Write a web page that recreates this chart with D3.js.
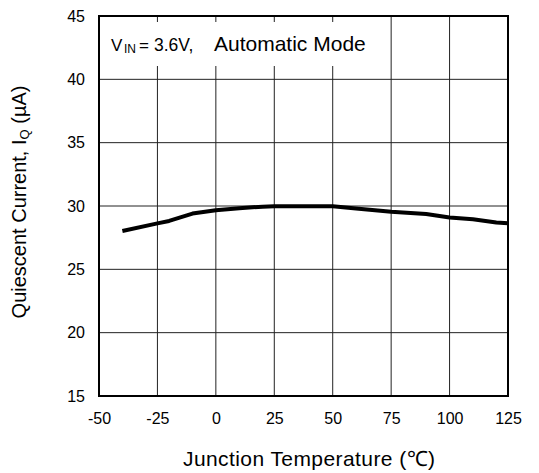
<!DOCTYPE html>
<html><head><meta charset="utf-8">
<script src="https://cdn.jsdelivr.net/npm/d3@7"></script>
<style>body{margin:0;background:#fff}svg{display:block;font-family:Arial,"Liberation Sans",sans-serif}</style>
</head><body><svg id="c" width="539" height="473"></svg>
<script>
const temps = [-40, -25, -20, -10, 0, 10, 20, 25, 37.5, 50, 60, 75, 90, 100, 110, 120, 125];
const iq    = [28.03, 28.63, 28.82, 29.4, 29.66, 29.82, 29.95, 29.98, 29.98, 29.98, 29.8, 29.55, 29.37, 29.1, 28.95, 28.7, 28.63];
const xTicks = [-50, -25, 0, 25, 50, 75, 100, 125];
const yTicks = [15, 20, 25, 30, 35, 40, 45];

const svg = d3.select("#c");
const L = 99, R = 508, T = 16, B = 396;
const x = d3.scaleLinear().domain([-50, 125]).range([L, R]);
const y = d3.scaleLinear().domain([15, 45]).range([B, T]);

// grid
svg.append("g").selectAll("line").data(xTicks).join("line")
  .attr("x1", d => x(d)).attr("x2", d => x(d)).attr("y1", T).attr("y2", B)
  .attr("stroke", "#222").attr("stroke-width", 1);
svg.append("g").selectAll("line").data(yTicks).join("line")
  .attr("x1", L).attr("x2", R).attr("y1", d => y(d)).attr("y2", d => y(d))
  .attr("stroke", "#222").attr("stroke-width", 1);

// annotation box
svg.append("rect").attr("x", L + 1).attr("y", 22).attr("width", 276).attr("height", 44).attr("fill", "#fff");
svg.append("text").attr("x", 111).attr("y", 51).attr("font-size", 17).attr("fill", "#000").text("V");
svg.append("text").attr("x", 124).attr("y", 53).attr("font-size", 12).attr("fill", "#000").text("IN");
svg.append("text").attr("x", 139).attr("y", 51).attr("font-size", 17).attr("fill", "#000").text("=");
svg.append("text").attr("x", 154).attr("y", 51).attr("font-size", 17.5).attr("fill", "#000").text("3.6V,");
svg.append("text").attr("x", 214).attr("y", 51).attr("font-size", 21).attr("fill", "#000").text("Automatic Mode");

// data line
svg.append("path").datum(temps.map((t, i) => [t, iq[i]]))
  .attr("fill", "none").attr("stroke", "#000").attr("stroke-width", 4).attr("stroke-linejoin", "round")
  .attr("d", d3.line().x(d => x(d[0])).y(d => y(d[1])));

// frame
svg.append("rect").attr("x", L).attr("y", T).attr("width", R - L).attr("height", B - T)
  .attr("fill", "none").attr("stroke", "#000").attr("stroke-width", 2);

// axes labels via d3 axes
const xa = svg.append("g").attr("transform", `translate(0,${B})`)
  .call(d3.axisBottom(x).tickValues(xTicks).tickSize(0).tickPadding(17).tickFormat(d => String(d)));
xa.select(".domain").remove();
xa.selectAll("text").attr("font-size", 16).attr("font-family", "Arial, 'Liberation Sans', sans-serif").attr("fill", "#000");

const ya = svg.append("g").attr("transform", `translate(${L},0)`)
  .call(d3.axisLeft(y).tickValues(yTicks).tickSize(0).tickPadding(14).tickFormat(d => String(d)));
ya.select(".domain").remove();
ya.selectAll("text").attr("font-size", 16).attr("font-family", "Arial, 'Liberation Sans', sans-serif").attr("fill", "#000");

// titles
svg.append("text").attr("x", 183).attr("y", 466)
  .attr("font-size", 21).attr("fill", "#000").attr("textLength", 252).attr("lengthAdjust", "spacing")
  .text("Junction Temperature (\u2103)");
const yt = svg.append("text").attr("transform", `translate(26,${(T + B) / 2 - 4}) rotate(-90)`)
  .attr("text-anchor", "middle").attr("font-size", 20).attr("fill", "#000");
yt.append("tspan").text("Quiescent Current, I");
yt.append("tspan").attr("font-size", 13).attr("dy", 3).text("Q");
yt.append("tspan").attr("dy", -3).text(" (\u00b5A)");
</script></body></html>
